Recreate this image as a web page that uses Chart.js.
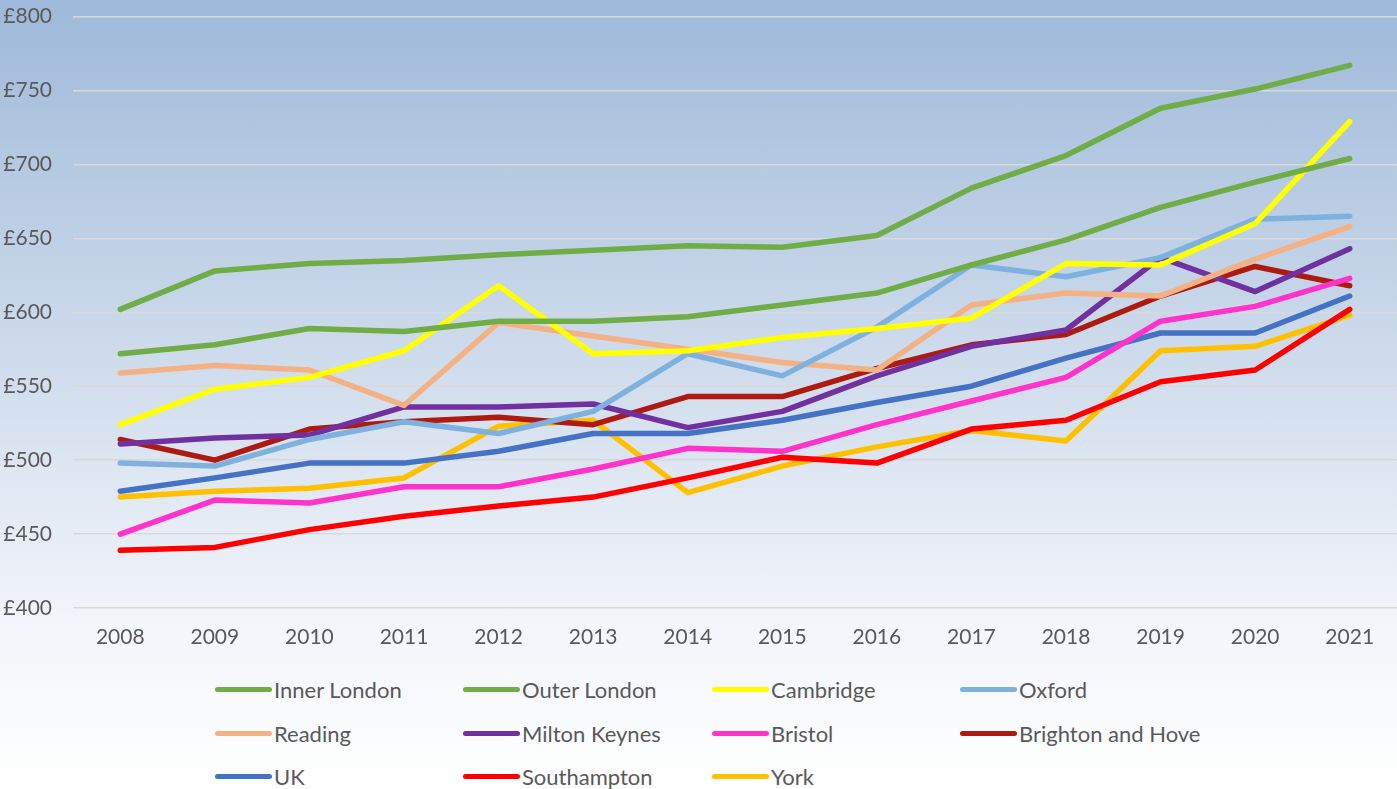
<!DOCTYPE html>
<html>
<head>
<meta charset="utf-8">
<script src="https://cdn.jsdelivr.net/npm/chart.js@4.4.1/dist/chart.umd.min.js"></script>
<style>
  html, body { margin: 0; padding: 0; }
  body {
    width: 1397px; height: 789px; overflow: hidden; position: relative;
    background: linear-gradient(to bottom, #9EB9D9 0px, #F2F5FA 620px, #FFFFFF 789px);
    font-family: Lato, "Open Sans", sans-serif;
  }
  #wrap { position: absolute; left: 0; top: -17px; width: 1397px; height: 677px; }
  #legend {
    position: absolute; left: 215px; top: 668px;
    display: grid; grid-template-columns: 248px 249px 248px 300px;
    grid-auto-rows: 43.5px;
  }
  .item { display: flex; align-items: center; font-size: 22px; color: #595959; white-space: nowrap; }
  .swatch { width: 57px; height: 5px; border-radius: 3px; margin-right: 2px; flex: none; }
</style>
</head>
<body>
<div id="wrap"><canvas id="chart"></canvas></div>
<div id="legend"></div>
<script>
// rent per month, 2008-2021
var years = ['2008','2009','2010','2011','2012','2013','2014','2015','2016','2017','2018','2019','2020','2021'];

var innerLondon  = [602, 628, 633, 635, 639, 642, 645, 644, 652, 684, 706, 738, 751, 767];
var outerLondon  = [572, 578, 589, 587, 594, 594, 597, 605, 613, 632, 649, 671, 688, 704];
var cambridge    = [524, 548, 556, 574, 618, 572, 574, 583, 589, 596, 633, 632, 660, 729];
var oxford       = [498, 496, 514, 526, 518, 533, 572, 557, 590, 632, 624, 637, 663, 665];
var reading      = [559, 564, 561, 537, 593, 584, 575, 566, 561, 605, 613, 611, 636, 658];
var miltonKeynes = [511, 515, 517, 536, 536, 538, 522, 533, 557, 577, 588, 637, 614, 643];
var bristol      = [450, 473, 471, 482, 482, 494, 508, 506, 524, 540, 556, 594, 604, 623];
var brighton     = [514, 500, 521, 526, 529, 524, 543, 543, 562, 578, 585, 611, 631, 618];
var uk           = [479, 488, 498, 498, 506, 518, 518, 527, 539, 550, 569, 586, 586, 611];
var southampton  = [439, 441, 453, 462, 469, 475, 488, 502, 498, 521, 527, 553, 561, 602];
var york         = [475, 479, 481, 488, 523, 527, 478, 496, 509, 520, 513, 574, 577, 598];

var seriesNames  = ['Inner London', 'Outer London', 'Cambridge', 'Oxford', 'Reading', 'Milton Keynes',
                    'Bristol', 'Brighton and Hove', 'UK', 'Southampton', 'York'];
var seriesData   = [innerLondon, outerLondon, cambridge, oxford, reading, miltonKeynes,
                    bristol, brighton, uk, southampton, york];
var seriesColors = ['#70AD47', '#70AD47', '#FFFF00', '#7FB1DF', '#F4B183', '#7030A0',
                    '#FF33CC', '#AE1A10', '#4472C4', '#FF0000', '#FFC000'];

var datasets = seriesNames.map(function(name, i) {
  return {
    label: name,
    data: seriesData[i],
    borderColor: seriesColors[i],
    backgroundColor: seriesColors[i],
    borderWidth: 5.5,
    borderCapStyle: 'round',
    borderJoinStyle: 'round',
    pointRadius: 0,
    tension: 0,
    fill: false
  };
});

var tickFont = { family: 'Lato, "Open Sans", sans-serif', size: 21 };

var chart = new Chart(document.getElementById('chart'), {
  type: 'line',
  data: { labels: years, datasets: datasets },
  options: {
    responsive: true,
    maintainAspectRatio: false,
    animation: false,
    layout: { padding: { top: 0, right: 0, left: 0, bottom: 0 } },
    plugins: { legend: { display: false }, tooltip: { enabled: false } },
    scales: {
      x: {
        offset: true,
        grid: { display: false, drawTicks: false },
        border: { display: false },
        ticks: { color: '#595959', font: tickFont, padding: 17, maxRotation: 0 },
        afterFit: function(s) { s.height = 52; }
      },
      y: {
        min: 400, max: 800,
        grid: { color: '#D9D9D9', lineWidth: 1.5, drawTicks: false },
        border: { display: false },
        ticks: {
          stepSize: 50, color: '#595959', font: tickFont, padding: 21,
          callback: function(v) { return '£' + v; }
        },
        afterFit: function(s) { s.width = 73; }
      }
    }
  }
});

// html legend in a 4-column grid
var legendEl = document.getElementById('legend');
chart.data.datasets.forEach(function(ds) {
  var item = document.createElement('div');
  item.className = 'item';
  var sw = document.createElement('span');
  sw.className = 'swatch';
  sw.style.background = ds.borderColor;
  var txt = document.createElement('span');
  txt.textContent = ds.label;
  item.appendChild(sw);
  item.appendChild(txt);
  legendEl.appendChild(item);
});
</script>
</body>
</html>
